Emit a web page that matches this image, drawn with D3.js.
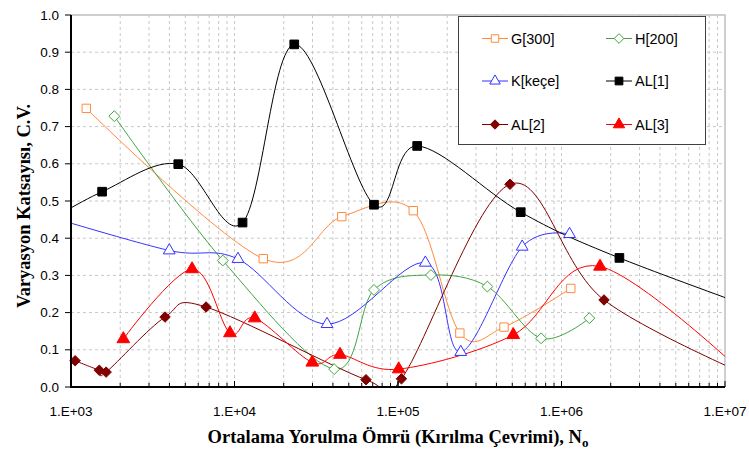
<!DOCTYPE html>
<html>
<head>
<meta charset="utf-8">
<script src="https://cdn.jsdelivr.net/npm/d3@7"></script>
<style>
  body { margin: 0; background: #fff; }
  svg text { font-family: "Liberation Sans", Arial, sans-serif; }
</style>
</head>
<body>
<div id="chart"></div>
<script>
// data (x = cycles, y = C.V.)
// a few points lie outside the x range; their lines are clipped like in the original
const gX = [1.24e3, 1.5e4, 4.53e4, 1.24e5, 2.39e5, 4.45e5, 1.14e6];
const gY = [0.749, 0.345, 0.458, 0.474, 0.145, 0.161, 0.265];

const hX = [1.84e3, 8.48e3, 4.07e4, 7.13e4, 1.59e5, 3.52e5, 7.5e5, 1.48e6];
const hY = [0.728, 0.340, 0.048, 0.261, 0.301, 0.270, 0.131, 0.185];

const kX = [7.1e2, 3.99e3, 1.05e4, 3.68e4, 1.47e5, 2.42e5, 5.75e5, 1.12e6];
const kY = [0.46, 0.367, 0.344, 0.169, 0.334, 0.094, 0.377, 0.411];

const al1X = [6.3e2, 1.55e3, 4.53e3, 1.12e4, 2.32e4, 7.13e4, 1.31e5, 5.63e5, 2.26e6, 3.2e7];
const al1Y = [0.43, 0.525, 0.599, 0.442, 0.921, 0.490, 0.648, 0.470, 0.347, 0.16];

const al2X = [1.06e3, 1.49e3, 1.64e3, 3.76e3, 6.7e3, 6.37e4, 1.05e5, 4.84e5, 1.82e6, 2e7];
const al2Y = [0.0706, 0.045, 0.040, 0.188, 0.215, 0.0196, 0.022, 0.545, 0.234, 0.0];

const al3X = [2.09e3, 5.5e3, 9.38e3, 1.33e4, 2.99e4, 4.42e4, 1.01e5, 5.07e5, 1.72e6, 1.6e7];
const al3Y = [0.129, 0.317, 0.145, 0.185, 0.066, 0.087, 0.048, 0.140, 0.324, 0.0];

const seriesNames = ['G[300]', 'H[200]', 'K[keçe]', 'AL[1]', 'AL[2]', 'AL[3]'];
const xTickValues = [1e3, 1e4, 1e5, 1e6, 1e7];
const xTickLabels = ['1.E+03', '1.E+04', '1.E+05', '1.E+06', '1.E+07'];
const yTickValues = [0, 0.1, 0.2, 0.3, 0.4, 0.5, 0.6, 0.7, 0.8, 0.9, 1.0];

const width = 749;
const height = 450;
const plotLeft = 71, plotRight = 725, plotTop = 15, plotBottom = 387;

const series = [
  { name: seriesNames[0], xs: gX, ys: gY, color: '#ff8a3d', symbol: d3.symbolSquare, size: 70, fill: '#fff' },
  { name: seriesNames[1], xs: hX, ys: hY, color: '#3fa53f', symbol: d3.symbolDiamond2, size: 75, fill: '#fff' },
  { name: seriesNames[2], xs: kX, ys: kY, color: '#3333ff', symbol: d3.symbolTriangle, size: 60, fill: '#fff' },
  { name: seriesNames[3], xs: al1X, ys: al1Y, color: '#000000', symbol: d3.symbolSquare, size: 75, fill: '#000' },
  { name: seriesNames[4], xs: al2X, ys: al2Y, color: '#800000', symbol: d3.symbolDiamond2, size: 70, fill: '#800000' },
  { name: seriesNames[5], xs: al3X, ys: al3Y, color: '#ff0000', symbol: d3.symbolTriangle, size: 70, fill: '#ff0000' }
];

const svg = d3.select('#chart').append('svg')
  .attr('width', width)
  .attr('height', height);

const x = d3.scaleLog().domain([1e3, 1e7]).range([plotLeft, plotRight]);
const y = d3.scaleLinear().domain([0, 1]).range([plotBottom, plotTop]);

// grid lines (major + minor on x)
const minorX = [];
for (let e = 3; e < 7; e++) {
  for (let m = 1; m < 10; m++) {
    const v = m * Math.pow(10, e);
    if (v > 1e3) minorX.push(v);
  }
}

svg.append('g')
  .selectAll('line')
  .data(minorX)
  .join('line')
  .attr('x1', d => x(d)).attr('x2', d => x(d))
  .attr('y1', plotTop).attr('y2', plotBottom)
  .attr('stroke', '#c8c8c8')
  .attr('stroke-dasharray', '3,3');

svg.append('g')
  .selectAll('line')
  .data(yTickValues.filter(v => v > 0 && v < 1))
  .join('line')
  .attr('x1', plotLeft).attr('x2', plotRight)
  .attr('y1', d => y(d)).attr('y2', d => y(d))
  .attr('stroke', '#c8c8c8')
  .attr('stroke-dasharray', '3,3');

// top and right frame
svg.append('path')
  .attr('d', `M${plotLeft},${plotTop}H${plotRight}V${plotBottom}`)
  .attr('fill', 'none')
  .attr('stroke', '#c0c0c0')
  .attr('stroke-width', 1.5);

// series lines
svg.append('clipPath').attr('id', 'plot-clip')
  .append('rect')
  .attr('x', plotLeft).attr('y', plotTop)
  .attr('width', plotRight - plotLeft).attr('height', plotBottom - plotTop);

const line = d3.line()
  .x(d => x(d[0]))
  .y(d => y(d[1]))
  .curve(d3.curveCardinal.tension(0));

const plot = svg.append('g').attr('clip-path', 'url(#plot-clip)');

series.forEach(s => {
  const pts = s.xs.map((v, i) => [v, s.ys[i]]);
  plot.append('path')
    .datum(pts)
    .attr('d', line)
    .attr('fill', 'none')
    .attr('stroke', s.color)
    .attr('stroke-width', 1);
});

// markers, only the ones inside the axis range
series.forEach(s => {
  const pts = s.xs.map((v, i) => [v, s.ys[i]]).filter(p => p[0] >= 1e3 && p[0] <= 1e7);
  svg.append('g')
    .selectAll('path')
    .data(pts)
    .join('path')
    .attr('transform', d => `translate(${x(d[0])},${y(d[1])})`)
    .attr('d', d3.symbol().type(s.symbol).size(s.size))
    .attr('fill', s.fill)
    .attr('stroke', s.color)
    .attr('stroke-width', 1);
});

// axes
const xAxis = svg.append('g');
xAxis.append('line')
  .attr('x1', plotLeft - 1).attr('x2', plotRight)
  .attr('y1', plotBottom).attr('y2', plotBottom)
  .attr('stroke', '#000').attr('stroke-width', 2);

xAxis.selectAll('.minor')
  .data(minorX.concat(xTickValues.slice(1)))
  .join('line')
  .attr('x1', d => x(d)).attr('x2', d => x(d))
  .attr('y1', plotBottom).attr('y2', d => xTickValues.includes(d) ? plotBottom - 6 : plotBottom - 4)
  .attr('stroke', '#000');

xAxis.selectAll('text')
  .data(xTickValues)
  .join('text')
  .attr('x', d => x(d))
  .attr('y', 416)
  .attr('text-anchor', 'middle')
  .attr('font-size', 13.5)
  .text((d, i) => xTickLabels[i]);

const yAxis = svg.append('g');
yAxis.append('line')
  .attr('x1', plotLeft).attr('x2', plotLeft)
  .attr('y1', plotTop).attr('y2', plotBottom + 1)
  .attr('stroke', '#000').attr('stroke-width', 2);

yAxis.selectAll('.tick')
  .data(yTickValues)
  .join('line')
  .attr('x1', plotLeft - 6).attr('x2', plotLeft)
  .attr('y1', d => y(d)).attr('y2', d => y(d))
  .attr('stroke', '#000');

yAxis.selectAll('text')
  .data(yTickValues)
  .join('text')
  .attr('x', 59)
  .attr('y', d => y(d) + 4.5)
  .attr('text-anchor', 'end')
  .attr('font-size', 13.5)
  .text(d3.format('.1f'));

// axis titles
const xTitle = svg.append('text')
  .attr('x', 398)
  .attr('y', 443)
  .attr('text-anchor', 'middle')
  .style('font-family', '"Liberation Serif", "Times New Roman", serif')
  .style('font-weight', 'bold')
  .style('font-size', '18.5px')
  .text('Ortalama Yorulma Ömrü (Kırılma Çevrimi), N');
xTitle.append('tspan')
  .attr('dy', 4)
  .style('font-size', '13px')
  .text('o');

svg.append('text')
  .attr('transform', 'translate(30,206) rotate(-90)')
  .attr('text-anchor', 'middle')
  .style('font-family', '"Liberation Serif", "Times New Roman", serif')
  .style('font-weight', 'bold')
  .style('font-size', '18.5px')
  .text('Varyasyon Katsayısı, C.V.');

// legend
const legend = svg.append('g');
legend.append('rect')
  .attr('x', 458.5).attr('y', 16.5)
  .attr('width', 247).attr('height', 128)
  .attr('fill', '#fff')
  .attr('stroke', '#404040')
  .attr('stroke-width', 1);

const legendCols = [495, 619];
const legendRows = [38.5, 81, 124.5];

const items = legend.selectAll('g.item')
  .data(series)
  .join('g')
  .attr('class', 'item')
  .attr('transform', (d, i) => `translate(${legendCols[i % 2]},${legendRows[Math.floor(i / 2)]})`);

items.append('line')
  .attr('x1', -13).attr('x2', 13)
  .attr('stroke', d => d.color)
  .attr('stroke-width', 1);

items.append('path')
  .attr('d', d => d3.symbol().type(d.symbol).size(d.size * 0.8)())
  .attr('fill', d => d.fill)
  .attr('stroke', d => d.color);

items.append('text')
  .attr('x', 16)
  .attr('y', 5)
  .attr('font-size', 14.5)
  .text(d => d.name);
</script>
</body>
</html>
